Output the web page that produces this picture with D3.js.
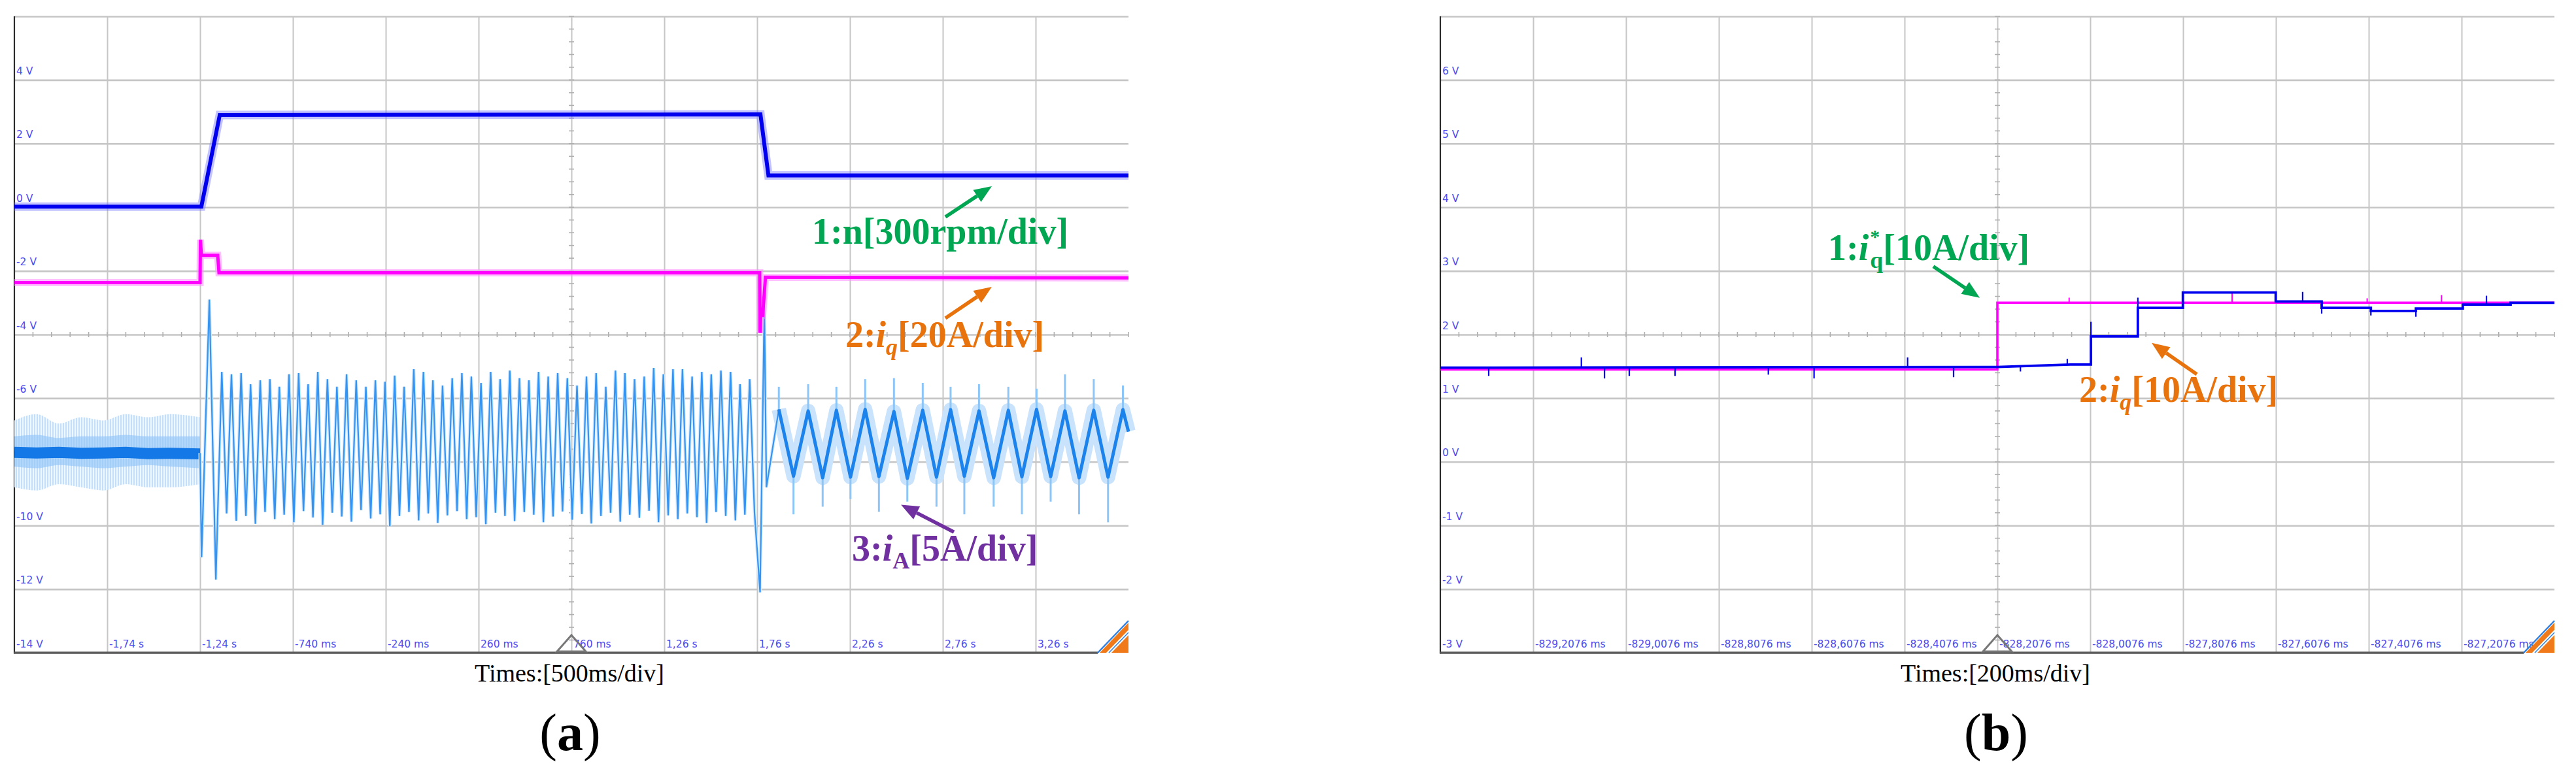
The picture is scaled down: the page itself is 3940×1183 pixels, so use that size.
<!DOCTYPE html>
<html><head><meta charset="utf-8">
<script src="https://cdn.jsdelivr.net/npm/d3@7"></script>
<style>
html,body{margin:0;padding:0;background:#fff;}
svg{display:block;}
</style></head>
<body>
<svg id="chart" width="3940" height="1183"></svg>
<script>
// ================= DATA =================
// ---- panel (a) axes ----
const aTimeDomain = [-2.24, 3.76];           // s
const aVoltDomain = [-14, 6];                // V
const aTimeTicks  = [-1.74,-1.24,-0.74,-0.24,0.26,0.76,1.26,1.76,2.26,2.76,3.26];
const aTimeLabels = ["-1,74 s","-1,24 s","-740 ms","-240 ms","260 ms","760 ms","1,26 s","1,76 s","2,26 s","2,76 s","3,26 s"];
const aVoltTicks  = [4,2,0,-2,-4,-6,-8,-10,-12,-14];
const aVoltLabels = ["4 V","2 V","0 V","-2 V","-4 V","-6 V","-8 V","-10 V","-12 V","-14 V"];

// ---- panel (a) channel 1: speed n ----
const aSpeed = [[-2.24,0.02],[-1.233,0.02],[-1.134,2.9],[1.778,2.92],[1.821,1.0],[3.76,1.0]];
// ---- panel (a) channel 2: iq ----
const aIq = [[-2.24,-2.37],[-1.240,-2.37],[-1.238,-1.02],[-1.233,-1.51],[-1.145,-1.51],[-1.138,-2.06],
             [1.774,-2.06],[1.776,-3.95],[1.780,-3.4],[1.790,-3.4],[1.805,-2.2],[3.76,-2.22]];
// ---- panel (a) channel 3: iA ----
const aIaPreT    = [-2.24,-2.12,-2.0,-1.88,-1.76,-1.64,-1.52,-1.40,-1.24];
const aIaPreHi   = [-6.7,-6.5,-6.8,-6.6,-6.7,-6.5,-6.6,-6.5,-6.6];
const aIaPreLo   = [-8.8,-8.9,-8.7,-8.8,-8.9,-8.7,-8.8,-8.8,-8.7];
const aIaPreMidHi = [-7.2,-7.15,-7.25,-7.2,-7.2,-7.15,-7.2,-7.2,-7.2];
const aIaPreMidLo = [-8.15,-8.2,-8.1,-8.15,-8.2,-8.15,-8.1,-8.15,-8.2];
const aIaPreCore = [-7.70,-7.72,-7.70,-7.73,-7.72,-7.70,-7.74,-7.73,-7.75];
const aIaStart   = [[-1.24,-7.72],[-1.232,-11.0],[-1.19,-2.9],[-1.155,-11.7]];
const aIaMidPeakT = [-1.123,-1.071,-1.019,-0.968,-0.916,-0.864,-0.813,-0.761,-0.709,-0.658,-0.606,-0.554,-0.503,-0.451,-0.399,-0.347,-0.296,-0.244,-0.192,-0.141,-0.089,-0.037,0.014,0.066,0.118,0.170,0.221,0.273,0.325,0.376,0.428,0.480,0.531,0.583,0.635,0.686,0.738,0.790,0.841,0.893,0.945,0.997,1.048,1.100,1.152,1.203,1.255,1.307,1.358,1.410,1.462,1.513,1.565,1.617,1.668,1.720];
const aIaMidPeakV = [-5.17,-5.25,-5.21,-5.56,-5.44,-5.40,-5.64,-5.25,-5.21,-5.56,
                     -5.17,-5.40,-5.64,-5.25,-5.44,-5.64,-5.44,-5.48,-5.29,-5.64,
                     -5.09,-5.17,-5.44,-5.60,-5.37,-5.21,-5.32,-5.52,-5.17,-5.40,
                     -5.13,-5.37,-5.44,-5.17,-5.32,-5.21,-5.37,-5.60,-5.32,-5.21,
                     -5.64,-5.13,-5.21,-5.40,-5.32,-5.05,-5.25,-5.09,-5.09,-5.32,
                     -5.17,-5.25,-5.13,-5.17,-5.56,-5.40];
const aIaMidTroughT = [-1.097,-1.045,-0.993,-0.942,-0.890,-0.838,-0.787,-0.735,-0.683,-0.632,-0.580,-0.528,-0.477,-0.425,-0.373,-0.321,-0.270,-0.218,-0.166,-0.115,-0.063,-0.011,0.040,0.092,0.144,0.196,0.247,0.299,0.351,0.402,0.454,0.506,0.557,0.609,0.661,0.712,0.764,0.816,0.867,0.919,0.971,1.023,1.074,1.126,1.178,1.229,1.281,1.333,1.384,1.436,1.488,1.539,1.591,1.643,1.694,1.746];
const aIaMidTroughV = [-9.62,-9.85,-9.70,-9.95,-9.58,-9.80,-9.66,-9.90,-9.55,-9.75,
                       -9.98,-9.60,-9.72,-9.88,-9.52,-9.78,-9.65,-10.02,-9.70,-9.58,
                       -9.84,-9.62,-9.92,-9.68,-9.55,-9.80,-9.74,-9.96,-9.60,-9.70,
                       -9.86,-9.58,-9.66,-9.90,-9.72,-9.56,-9.82,-9.64,-9.94,-9.70,
                       -9.60,-9.88,-9.66,-9.76,-9.54,-9.90,-9.68,-9.80,-9.62,-9.74,
                       -9.92,-9.58,-9.70,-9.84,-9.66,-9.60];
const aIaTrans = [[1.776,-12.1],[1.799,-3.1],[1.81,-8.8]];
const aIaLowPeakT   = [1.877,2.035,2.187,2.342,2.497,2.652,2.802,2.955,3.113,3.265,3.418,3.573,3.730];
const aIaLowPeakV   = [-6.35,-6.40,-6.38,-6.35,-6.42,-6.38,-6.36,-6.40,-6.38,-6.35,-6.40,-6.38,-6.36];
const aIaLowPeakTip = [-5.64,-5.56,-5.64,-5.40,-5.37,-5.52,-5.64,-5.56,-5.64,-5.70,-5.25,-5.40,-5.60];
const aIaLowTroughT   = [1.956,2.113,2.263,2.416,2.569,2.726,2.876,3.034,3.186,3.341,3.494,3.650];
const aIaLowTroughV   = [-8.45,-8.50,-8.48,-8.46,-8.52,-8.48,-8.45,-8.50,-8.47,-8.46,-8.50,-8.48];
const aIaLowTroughTip = [-9.65,-9.41,-9.17,-9.57,-9.25,-9.41,-9.65,-9.41,-9.65,-9.25,-9.65,-9.90];
const aIaEnd = [[3.76,-7.05]];

// ---- panel (b) axes ----
const bTimeDomain = [-829.4076, -827.0076];  // ms
const bVoltDomain = [-3, 7];
const bTimeTicks  = [-829.2076,-829.0076,-828.8076,-828.6076,-828.4076,-828.2076,-828.0076,-827.8076,-827.6076,-827.4076,-827.2076];
const bTimeLabels = ["-829,2076 ms","-829,0076 ms","-828,8076 ms","-828,6076 ms","-828,4076 ms","-828,2076 ms","-828,0076 ms","-827,8076 ms","-827,6076 ms","-827,4076 ms","-827,2076 ms"];
const bVoltTicks  = [6,5,4,3,2,1,0,-1,-2,-3];
const bVoltLabels = ["6 V","5 V","4 V","3 V","2 V","1 V","0 V","-1 V","-2 V","-3 V"];
// ---- panel (b) channel 1: iq* (magenta) ----
const bIqRef = [[-829.4076,1.45],[-828.2076,1.45],[-828.2076,2.5],[-827.0076,2.5]];
const bIqRefSpikes = [[-828.053,2.5,2.58],[-827.905,2.5,2.40],[-827.702,2.5,2.66],[-827.411,2.5,2.57],[-827.251,2.5,2.62]];
// ---- panel (b) channel 2: iq (blue) ----
const bIq = [[-829.4076,1.48],[-828.2076,1.49],[-828.05,1.53],[-828.006,1.53],[-828.006,1.97],[-827.905,1.97],
             [-827.905,2.42],[-827.808,2.42],[-827.808,2.66],[-827.608,2.66],[-827.608,2.52],[-827.509,2.52],
             [-827.509,2.42],[-827.403,2.42],[-827.403,2.37],[-827.306,2.37],[-827.306,2.41],[-827.205,2.41],
             [-827.205,2.47],[-827.102,2.47],[-827.102,2.50],[-827.0076,2.50]];
const bIqSpikes = [[-829.3034,1.48,1.35],[-829.1038,1.48,1.64],[-829.054,1.48,1.31],[-829.0006,1.48,1.35],
                   [-828.902,1.48,1.35],[-828.701,1.48,1.37],[-828.6025,1.48,1.31],[-828.401,1.48,1.64],
                   [-828.302,1.48,1.33],[-828.158,1.50,1.42],[-828.057,1.52,1.62],[-828.006,1.97,2.2],
                   [-827.905,2.42,2.58],[-827.550,2.52,2.67],[-827.509,2.42,2.33],[-827.403,2.37,2.30],
                   [-827.306,2.37,2.28],[-827.154,2.47,2.61]];

// ================= LAYOUT / STYLE =================
const svg = d3.select("#chart");
svg.append("rect").attr("width",3940).attr("height",1183).attr("fill","#fff");
const defs = svg.append("defs");
const hatch = defs.append("pattern").attr("id","hatch").attr("patternUnits","userSpaceOnUse")
  .attr("width",4).attr("height",10);
hatch.append("rect").attr("width",4).attr("height",10).attr("fill","#eef6fe");
hatch.append("line").attr("x1",1).attr("x2",1).attr("y1",0).attr("y2",10).attr("stroke","#a6d0f8").attr("stroke-width",1.2);

const LABEL_COLOR = "#4b4bf0";
const GRID = "#c6c6c6";

function makePanel(P){
  const x = d3.scaleLinear().domain(P.tDom).range([P.x0, P.x1]);
  const y = d3.scaleLinear().domain(P.vDom).range([P.y1, P.y0]);
  const g = svg.append("g");
  const hVals = [P.vDom[1]].concat(P.vTicks.slice(0,-1));
  const hAx = g.append("g").attr("transform",`translate(${P.x0},0)`)
     .call(d3.axisLeft(y).tickValues(hVals).tickSize(-(P.x1-P.x0)).tickFormat(""));
  hAx.select(".domain").remove();
  hAx.selectAll("line").attr("stroke",GRID).attr("stroke-width",2.6);
  const vAx = g.append("g").attr("transform",`translate(0,${P.y1})`)
     .call(d3.axisBottom(x).tickValues(P.tTicks).tickSize(-(P.y1-P.y0)).tickFormat(""));
  vAx.select(".domain").remove();
  vAx.selectAll("line").attr("stroke",GRID).attr("stroke-width",2);
  const yc = y(P.center[1]), xc = x(P.center[0]);
  const mt = d3.range(P.tDom[0], P.tDom[1]+1e-9, P.minorT);
  g.selectAll(null).data(mt).enter().append("line")
    .attr("x1",d=>x(d)).attr("x2",d=>x(d)).attr("y1",yc-4).attr("y2",yc+4)
    .attr("stroke","#b0b0b0").attr("stroke-width",1.6);
  const mv = d3.range(P.vDom[0], P.vDom[1]+1e-9, P.minorV);
  g.selectAll(null).data(mv).enter().append("line")
    .attr("y1",d=>y(d)).attr("y2",d=>y(d)).attr("x1",xc-4).attr("x2",xc+4)
    .attr("stroke","#b0b0b0").attr("stroke-width",1.6);
  g.append("line").attr("x1",P.x0).attr("x2",P.x0).attr("y1",P.y0).attr("y2",P.y1+1.5)
    .attr("stroke","#2a2a2a").attr("stroke-width",2.2);
  g.append("line").attr("x1",P.x0).attr("x2",P.x1-47).attr("y1",P.y1).attr("y2",P.y1)
    .attr("stroke","#5a5a5a").attr("stroke-width",3.5);
  g.selectAll(null).data(P.vTicks).enter().append("text")
    .attr("x",P.x0+3).attr("y",d=>y(d)-8.5).text((d,i)=>P.vLabels[i])
    .style("font-family","'DejaVu Sans',sans-serif").style("font-size","15.5px").attr("fill",LABEL_COLOR);
  g.selectAll(null).data(P.tTicks).enter().append("text")
    .attr("x",d=>x(d)+3).attr("y",P.y1-8.5).text((d,i)=>P.tLabels[i])
    .style("font-family","'DejaVu Sans',sans-serif").style("font-size","15.5px").attr("fill",LABEL_COLOR);
  const lx = P.x1, ly = P.y1;
  g.append("polygon").attr("points",`${lx-44},${ly} ${lx},${ly-46} ${lx},${ly}`).attr("fill","#f07a1a");
  g.append("polygon").attr("points",`${lx-34},${ly} ${lx},${ly-35} ${lx},${ly-27} ${lx-26},${ly}`).attr("fill","#fff");
  g.append("line").attr("x1",lx-47).attr("y1",ly).attr("x2",lx).attr("y2",ly-49).attr("stroke","#2f7fe0").attr("stroke-width",2.5);
  g.append("line").attr("x1",lx-30).attr("y1",ly).attr("x2",lx).attr("y2",ly-31).attr("stroke","#2f7fe0").attr("stroke-width",1.5);
  return {g,x,y,xc,yc};
}

const A = makePanel({x0:22,x1:1726,y0:25,y1:999,tDom:aTimeDomain,vDom:aVoltDomain,
   tTicks:aTimeTicks,tLabels:aTimeLabels,vTicks:aVoltTicks,vLabels:aVoltLabels,
   center:[0.76,-4],minorT:0.1,minorV:0.4});
const B = makePanel({x0:2203,x1:3907,y0:25,y1:999,tDom:bTimeDomain,vDom:bVoltDomain,
   tTicks:bTimeTicks,tLabels:bTimeLabels,vTicks:bVoltTicks,vLabels:bVoltLabels,
   center:[-828.2076,2],minorT:0.04,minorV:0.2});

// ================= TRACES panel (a) =================
{
  const {g,x,y} = A;
  const line = d3.line().x(d=>x(d[0])).y(d=>y(d[1]));
  const pre = aIaPreT.map((t,i)=>({t,hi:aIaPreHi[i],lo:aIaPreLo[i],mh:aIaPreMidHi[i],ml:aIaPreMidLo[i],c:aIaPreCore[i]}));
  g.append("path").datum(pre).attr("fill","url(#hatch)")
    .attr("d",d3.area().x(d=>x(d.t)).y0(d=>y(d.lo)).y1(d=>y(d.hi)).curve(d3.curveMonotoneX));
  g.append("path").datum(pre).attr("fill","#8cc3f7").attr("opacity",0.6)
    .attr("d",d3.area().x(d=>x(d.t)).y0(d=>y(d.ml)).y1(d=>y(d.mh)).curve(d3.curveMonotoneX));
  g.append("path").datum(pre).attr("fill","none").attr("stroke","#1479e6").attr("stroke-width",17)
    .attr("d",d3.line().x(d=>x(d.t)).y(d=>y(d.c)));
  const mid = [];
  aIaMidPeakT.forEach((t,i)=>{ mid.push([t,aIaMidPeakV[i]]); mid.push([aIaMidTroughT[i],aIaMidTroughV[i]]); });
  const low = [];
  aIaLowPeakT.forEach((t,i)=>{ low.push([t,aIaLowPeakV[i]]); if(i<aIaLowTroughT.length) low.push([aIaLowTroughT[i],aIaLowTroughV[i]]); });
  const fast = aIaStart.concat(mid, aIaTrans, [low[0]]);
  const slow = low.concat(aIaEnd);
  g.append("path").datum(fast).attr("fill","none").attr("stroke","#d6ebfd").attr("stroke-width",5).attr("d",line);
  g.append("path").datum(slow).attr("fill","none").attr("stroke","#c9e3fc").attr("stroke-width",22)
    .attr("stroke-linejoin","round").attr("d",line);
  const spk = aIaLowPeakT.map((t,i)=>[t,aIaLowPeakV[i],aIaLowPeakTip[i]])
      .concat(aIaLowTroughT.map((t,i)=>[t,aIaLowTroughV[i],aIaLowTroughTip[i]]));
  g.selectAll(null).data(spk).enter().append("line")
    .attr("x1",d=>x(d[0])).attr("x2",d=>x(d[0])).attr("y1",d=>y(d[1])).attr("y2",d=>y(d[2]))
    .attr("stroke","#8cc5f7").attr("stroke-width",3);
  g.append("path").datum(fast).attr("fill","none").attr("stroke","#3593f1").attr("stroke-width",2.2).attr("d",line);
  g.append("path").datum(slow).attr("fill","none").attr("stroke","#1c82ec").attr("stroke-width",5)
    .attr("stroke-linejoin","round").attr("d",line);
  g.append("path").datum(aIq).attr("fill","none").attr("stroke","#ff8cff").attr("stroke-opacity",0.55).attr("stroke-width",11).attr("d",line);
  g.append("path").datum(aIq).attr("fill","none").attr("stroke","#ff00ff").attr("stroke-width",5).attr("d",line);
  g.append("path").datum(aSpeed).attr("fill","none").attr("stroke","#7b7bff").attr("stroke-opacity",0.45).attr("stroke-width",13).attr("d",line);
  g.append("path").datum(aSpeed).attr("fill","none").attr("stroke","#0000ee").attr("stroke-width",6).attr("d",line);
}

// ================= TRACES panel (b) =================
{
  const {g,x,y} = B;
  const line = d3.line().x(d=>x(d[0])).y(d=>y(d[1]));
  g.append("path").datum(bIqRef).attr("fill","none").attr("stroke","#ff00ff").attr("stroke-width",3.5).attr("d",line);
  g.selectAll(null).data(bIqRefSpikes).enter().append("line")
    .attr("x1",d=>x(d[0])).attr("x2",d=>x(d[0])).attr("y1",d=>y(d[1])).attr("y2",d=>y(d[2]))
    .attr("stroke","#ff00ff").attr("stroke-width",2);
  g.append("path").datum(bIq).attr("fill","none").attr("stroke","#0000ee").attr("stroke-width",3.8).attr("d",line);
  g.selectAll(null).data(bIqSpikes).enter().append("line")
    .attr("x1",d=>x(d[0])).attr("x2",d=>x(d[0])).attr("y1",d=>y(d[1])).attr("y2",d=>y(d[2]))
    .attr("stroke","#0000ee").attr("stroke-width",2.2);
}

[A,B].forEach(P=>{
  const bx = P.xc, by = 997;
  P.g.append("polygon").attr("points",`${bx-22},${by} ${bx},${by-25} ${bx+22},${by}`)
    .attr("fill","none").attr("stroke","#777").attr("stroke-width",3);
});

// ================= ANNOTATIONS =================
const SERIF = "'Liberation Serif','Times New Roman',serif";
function annot(P, t, v, parts, color){
  const tx = P.g.append("text").attr("x",P.x(t)).attr("y",P.y(v)).attr("fill",color)
    .style("font-family",SERIF).style("font-weight","bold").style("font-size","56px");
  parts.forEach(p=>{
    const s = tx.append("tspan").text(p.text);
    if(p.italic) s.style("font-style","italic");
    if(p.size) s.style("font-size",p.size+"px");
    if(p.dy) s.attr("dy",p.dy);
    if(p.dx) s.attr("dx",p.dx);
  });
}
function arrow(P, t1,v1,t2,v2,color){
  const x1=P.x(t1), y1=P.y(v1), x2=P.x(t2), y2=P.y(v2);
  const dx=x2-x1, dy=y2-y1, L=Math.hypot(dx,dy), ux=dx/L, uy=dy/L, hl=27, hw=11;
  const bx=x2-ux*hl, by=y2-uy*hl;
  P.g.append("line").attr("x1",x1).attr("y1",y1).attr("x2",bx).attr("y2",by).attr("stroke",color).attr("stroke-width",5.5);
  P.g.append("polygon").attr("points",[[x2,y2],[bx-uy*hw,by+ux*hw],[bx+uy*hw,by-ux*hw]].map(p=>p.join(",")).join(" ")).attr("fill",color);
}
const GREEN="#00a651", ORANGE="#e8720c", PURPLE="#7030a0";
annot(A, 2.056, -1.146, [{text:"1:n[300rpm/div]"}], GREEN);
arrow(A, 2.774, -0.304, 3.024, 0.661, GREEN);
annot(A, 2.235, -4.39, [{text:"2:"},{text:"i",italic:true},{text:"q",italic:true,size:36,dy:12},{text:"[20A/div]",dy:-12}], ORANGE);
arrow(A, 2.774, -3.487, 3.024, -2.501, ORANGE);
annot(A, 2.271, -11.10, [{text:"3:"},{text:"i",italic:true},{text:"A",size:36,dy:12},{text:"[5A/div]",dy:-12}], PURPLE);
arrow(A, 2.820, -10.205, 2.535, -9.349, PURPLE);
annot(B, -828.5724, 3.172, [{text:"1:"},{text:"i",italic:true},{text:"*",size:30,dy:-26,dx:2},{text:"q",size:36,dx:-15,dy:38},{text:"[10A/div]",dy:-12}], GREEN);
arrow(B, -828.3456, 3.07, -828.2456, 2.577, GREEN);
annot(B, -828.0315, 0.945, [{text:"2:"},{text:"i",italic:true},{text:"q",italic:true,size:36,dy:12},{text:"[10A/div]",dy:-12}], ORANGE);
arrow(B, -827.7780, 1.376, -827.8752, 1.869, ORANGE);

// ================= CAPTIONS =================
[[A,"Times:[500ms/div]","a"],[B,"Times:[200ms/div]","b"]].forEach(([P,cap,lt])=>{
  const cx = (P.x.range()[0]+P.x.range()[1])/2;
  svg.append("text").attr("x",cx-3).attr("y",1043).attr("text-anchor","middle")
    .style("font-family",SERIF).style("font-size","38px").attr("fill","#000").text(cap);
  const t = svg.append("text").attr("x",cx-2).attr("y",1148).attr("text-anchor","middle")
    .style("font-family",SERIF).style("font-size","80px").attr("fill","#000");
  t.append("tspan").text("(");
  t.append("tspan").style("font-weight","bold").text(lt);
  t.append("tspan").text(")");
});
</script>
</body></html>
